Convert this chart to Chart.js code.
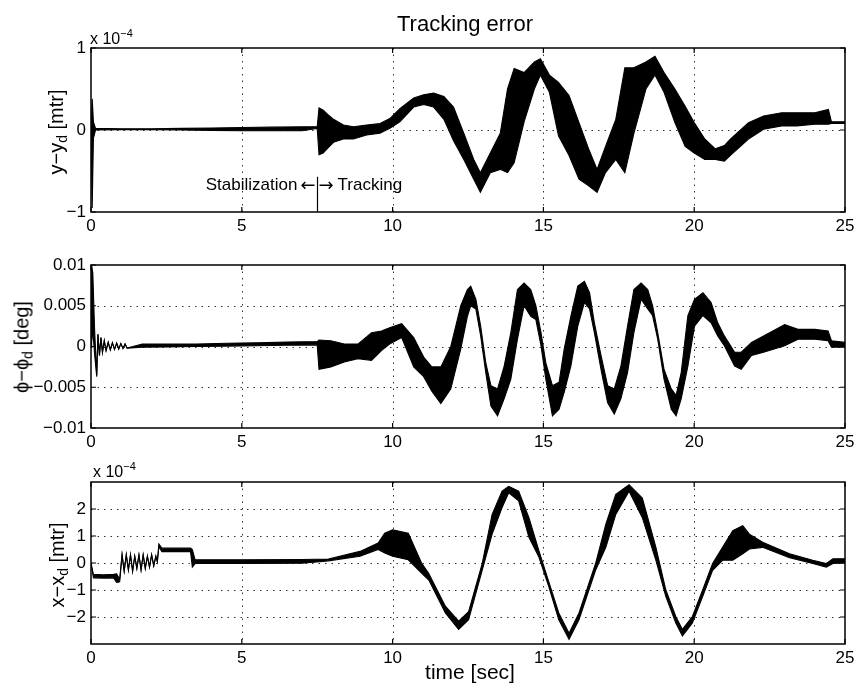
<!DOCTYPE html>
<html>
<head>
<meta charset="utf-8">
<script src="https://cdn.jsdelivr.net/npm/chart.js@4.4.1/dist/chart.umd.min.js"></script>
<style>
  body { margin: 0; background: #fff; }
  #page { position: relative; width: 859px; height: 692px; background: #fff; font-family: "Liberation Sans", Arial, sans-serif; color: #000; overflow: hidden; }
  #page canvas { position: absolute; left: 0; }
  .lbl { position: absolute; white-space: nowrap; line-height: 1; }
  .ylab { transform: translate(-50%, -50%) rotate(-90deg); font-size: 20px; }
  .ylab sub { font-size: 14px; vertical-align: -4px; }
  .expo { font-size: 16px; }
  .expo sup { font-size: 11px; vertical-align: 7px; }
</style>
</head>
<body>
<div id="page">
  <canvas id="c1" width="859" height="240" style="top:0"></canvas>
  <canvas id="c2" width="859" height="215" style="top:240px"></canvas>
  <canvas id="c3" width="859" height="215" style="top:455px"></canvas>
  <div class="lbl" style="left:465px; top:13px; transform:translateX(-50%); font-size:22px;">Tracking error</div>
  <div class="lbl expo" style="left:90px; top:28px;">x 10<sup>−4</sup></div>
  <div class="lbl expo" style="left:93px; top:461px;">x 10<sup>−4</sup></div>
  <div class="lbl ylab" style="left:57px; top:132px;">y−y<sub>d</sub> [mtr]</div>
  <div class="lbl ylab" style="left:23px; top:347px;">ϕ−ϕ<sub>d</sub> [deg]</div>
  <div class="lbl ylab" style="left:58px; top:565px;">x−x<sub>d</sub> [mtr]</div>
  <div class="lbl" style="left:470px; top:661px; transform:translateX(-50%); font-size:21px;">time [sec]</div>
</div>
<script>
// ---- values (upper / lower edge of each trace) ----
const xTicks = [0, 5, 10, 15, 20, 25];
const xTickLabels = ['0', '5', '10', '15', '20', '25'];

// y - y_d, units of 1e-4 mtr
const yTime  = [0, 0.04, 0.08, 0.15, 1, 2, 3, 4, 5, 6, 7, 7.5, 7.56, 7.7, 7.85, 8.04, 8.37, 8.7, 9.14, 9.58, 9.91,
                10.24, 10.7, 11.03, 11.36, 11.7, 12.02, 12.36, 12.69, 12.91, 13.24, 13.57, 13.81, 14.03, 14.36, 14.7, 14.9,
                15.2, 15.5, 15.85, 16.18, 16.5, 16.78, 17.06, 17.4, 17.7, 18.0, 18.4, 18.7, 19.0, 19.36, 19.7, 20.0,
                20.35, 20.7, 21.0, 21.2, 21.8, 22.3, 22.9, 23.4, 24.0, 24.45, 24.55, 25];
const yUpper = [0, 0.38, 0.1, 0.02, 0.015, 0.015, 0.02, 0.025, 0.03, 0.035, 0.04, 0.04, 0.27, 0.24, 0.19, 0.13, 0.06, 0.04, 0.06, 0.08, 0.14,
                0.26, 0.39, 0.43, 0.45, 0.41, 0.28, -0.04, -0.36, -0.52, -0.28, -0.04, 0.5, 0.75, 0.7, 0.83, 0.87,
                0.67, 0.58, 0.42, 0.09, -0.23, -0.48, -0.2, 0.13, 0.76, 0.76, 0.83, 0.9, 0.7, 0.5, 0.29, 0.09,
                -0.11, -0.23, -0.19, -0.11, 0.09, 0.17, 0.21, 0.21, 0.21, 0.25, 0.1, 0.1];
const yLower = [0, -0.95, -0.1, 0.0, 0.005, 0.005, 0.0, -0.005, -0.01, -0.01, -0.01, 0.02, -0.3, -0.28, -0.22, -0.15, -0.11, -0.11, -0.06, -0.04, 0.02,
                0.1, 0.28, 0.31, 0.28, 0.13, -0.13, -0.36, -0.6, -0.76, -0.52, -0.48, -0.52, -0.4, 0.1, 0.5, 0.67,
                0.46, -0.07, -0.31, -0.6, -0.68, -0.76, -0.52, -0.36, -0.52, -0.04, 0.5, 0.67, 0.46, 0.09, -0.2, -0.28,
                -0.36, -0.36, -0.38, -0.31, -0.11, 0.01, 0.05, 0.05, 0.07, 0.07, 0.08, 0.08];
const yErrTicks = [-1, 0, 1];
const yErrTickLabels = ['−1', '0', '1'];

// phi - phi_d, deg
const phiTime  = [0, 0.02, 0.06, 0.12, 0.19, 0.23, 0.28, 0.33, 0.38, 0.44, 0.5, 0.57, 0.64, 0.71, 0.78, 0.85, 0.92, 0.99, 1.06, 1.13, 1.2,
                  1.7, 2.5, 3.5, 4.5, 5.5, 6.5, 7.5, 7.56, 7.95, 8.4,
                  8.85, 9.3, 9.63, 9.9, 10.3, 10.7, 11.03, 11.3, 11.6, 11.93, 12.26, 12.48, 12.59, 12.76, 12.92, 13.09, 13.26, 13.48,
                  13.7, 13.92, 14.14, 14.36, 14.58, 14.75, 14.92, 15.08, 15.3, 15.52, 15.69, 15.91, 16.14, 16.36, 16.53, 16.69,
                  16.91, 17.13, 17.35, 17.57, 17.79, 18.0, 18.24, 18.46, 18.62, 18.79, 19.0, 19.24, 19.4, 19.57, 19.79, 20.01,
                  20.29, 20.56, 20.78, 21.0, 21.34, 21.56, 21.9, 22.3, 23.0, 23.44, 24.0, 24.44, 24.55, 25];
const phiUpper = [0, 0.01, 0.009, 0.002, -0.0035, 0.0015, -0.0011, 0.0011, -0.0007, 0.0007, -0.0005, 0.0005, -0.0004, 0.00045, -0.00035, 0.0004, -0.0003, 0.00035, -0.00025, 0.0003, -0.0002,
                  0.0003, 0.0003, 0.0003, 0.0004, 0.00045, 0.00055, 0.0006, 0.0008, 0.0007, 0.0003,
                  0.0003, 0.0017, 0.0019, 0.0023, 0.0028, 0.0011, -0.0013, -0.0025, -0.0025, 0, 0.005, 0.007, 0.0074, 0.0058, 0.0025, -0.002, -0.0048, -0.0052,
                  -0.0024, 0.0017, 0.007, 0.0078, 0.007, 0.005, 0.0017, -0.002, -0.0048, -0.0044, -0.0003, 0.0037, 0.0074, 0.008, 0.0066, 0.0029,
                  -0.0011, -0.0048, -0.0052, -0.0024, 0.0025, 0.007, 0.0078, 0.007, 0.005, 0.0017, -0.0028, -0.0052, -0.006, -0.0032, 0.0038, 0.0058,
                  0.0066, 0.0054, 0.0029, 0.0013, -0.0007, -0.0007, 0.0005, 0.0013, 0.0027, 0.0021, 0.0021, 0.0019, 0.0007, 0.0005];
const phiLower = [0, 0, 0.002, -0.001, -0.0037, 0.0015, -0.0011, 0.0011, -0.0007, 0.0007, -0.0005, 0.0005, -0.0004, 0.00045, -0.00035, 0.0004, -0.0003, 0.00035, -0.00025, 0.0003, -0.0002,
                  -0.0001, -0.00005, 0, 0.00005, 0.0001, 0.00015, 0.0002, -0.0028, -0.0025, -0.0019,
                  -0.0015, -0.0017, -0.0005, 0.0003, 0.0011, -0.0025, -0.0037, -0.0055, -0.007, -0.0052, -0.0003, 0.0037, 0.005, 0.0046, 0.0013, -0.0032, -0.0073, -0.0085,
                  -0.0064, -0.004, 0.0009, 0.005, 0.0037, 0.0033, 0.0001, -0.004, -0.0085, -0.0077, -0.0056, -0.0024, 0.0025, 0.0054, 0.0046, 0.0017,
                  -0.0028, -0.0069, -0.0083, -0.0064, -0.0032, 0.0017, 0.0058, 0.0046, 0.0038, 0.0009, -0.004, -0.0077, -0.0085, -0.0064, -0.0024, 0.0025,
                  0.0038, 0.0029, 0.0013, 0.0001, -0.0024, -0.0028, -0.0011, -0.0007, 0.0001, 0.0009, 0.0009, 0.0007, -0.0001, -0.0001];
const phiTicks = [-0.01, -0.005, 0, 0.005, 0.01];
const phiTickLabels = ['−0.01', '−0.005', '0', '0.005', '0.01'];

// x - x_d, units of 1e-4 mtr
const xTime  = [0, 0.08, 0.4, 0.75, 0.85, 0.95, 1.03, 1.1, 1.17, 1.24, 1.31, 1.38, 1.45, 1.52, 1.59, 1.66, 1.73, 1.8, 1.87, 1.94,
                2.01, 2.08, 2.15, 2.2, 2.25, 2.35, 2.8, 3.3, 3.36, 3.45, 5, 7, 7.87, 8.92, 9.52,
                9.74, 10.0, 10.52, 10.96, 11.2, 11.75, 12.19, 12.52, 12.97, 13.3, 13.63, 13.85, 14.18, 14.52, 14.85, 15.18, 15.51, 15.85,
                16.18, 16.73, 17.07, 17.4, 17.84, 18.28, 18.73, 19.06, 19.39, 19.61, 19.94, 20.28, 20.61, 20.94, 21.28, 21.61,
                21.83, 22.27, 23.16, 23.93, 24.38, 24.6, 25];
const xUpper = [0, -0.42, -0.44, -0.42, -0.4, -0.6, 0.3, -0.3, 0.3, -0.25, 0.3, -0.3, 0.25, -0.2, 0.3, -0.25, 0.3, -0.2, 0.25, -0.15,
                0.3, -0.1, 0.25, 0.05, 0.7, 0.55, 0.55, 0.55, 0.5, 0.12, 0.12, 0.13, 0.15, 0.43, 0.74,
                1.1, 1.23, 1.1, 0, -0.39, -1.6, -2.15, -1.8, -0.02, 1.8, 2.66, 2.84, 2.66, 1.68, 0.46, -0.7, -1.85, -2.6,
                -1.85, -0.02, 1.44, 2.54, 2.9, 2.41, 0.58, -1.0, -1.98, -2.46, -1.98, -1.0, -0.02, 0.58, 1.2, 1.38,
                1.07, 0.77, 0.34, 0.1, -0.02, 0.16, 0.16];
const xLower = [0, -0.55, -0.56, -0.55, -0.72, -0.7, 0.3, -0.3, 0.3, -0.25, 0.3, -0.3, 0.25, -0.2, 0.3, -0.25, 0.3, -0.2, 0.25, -0.15,
                0.3, -0.1, 0.25, 0.05, 0.6, 0.42, 0.42, 0.42, -0.15, -0.02, -0.02, -0.01, 0.08, 0.25, 0.5,
                0.37, 0.25, 0.12, -0.37, -0.63, -1.85, -2.46, -2.1, -0.27, 1.07, 2.05, 2.6, 2.3, 0.95, 0.22, -0.88, -2.1, -2.83,
                -2.1, -0.27, 0.58, 1.8, 2.66, 1.68, 0.1, -1.24, -2.22, -2.7, -2.22, -1.24, -0.27, 0.1, 0.1, 0.34,
                0.52, 0.58, 0.2, -0.02, -0.15, -0.02, 0.0];
const xErrTicks = [-2, -1, 0, 1, 2];
const xErrTickLabels = ['−2', '−1', '0', '1', '2'];

// "Stabilization <-|-> Tracking" marker in the first panel
const switchTime = 7.5;

const fontFamily = '"Liberation Sans", Arial, sans-serif';
const tickFont = { family: fontFamily, size: 17 };

// dotted grid, box and inward tick marks (MATLAB look)
function framePlugin(yTickVals, extra) {
  return {
    id: 'frame',
    beforeDatasetsDraw(chart) {
      const { ctx, chartArea: a, scales: { x, y } } = chart;
      ctx.save();
      ctx.strokeStyle = '#333';
      ctx.lineWidth = 1;
      ctx.setLineDash([1.5, 5]);
      xTicks.forEach(v => {
        if (v <= x.min || v >= x.max) return;
        const px = Math.round(x.getPixelForValue(v)) + 0.5;
        ctx.beginPath(); ctx.moveTo(px, a.top); ctx.lineTo(px, a.bottom); ctx.stroke();
      });
      yTickVals.forEach(v => {
        if (v <= y.min || v >= y.max) return;
        const py = Math.round(y.getPixelForValue(v)) + 0.5;
        ctx.beginPath(); ctx.moveTo(a.left, py); ctx.lineTo(a.right, py); ctx.stroke();
      });
      ctx.restore();
    },
    afterDatasetsDraw(chart) {
      const { ctx, chartArea: a, scales: { x, y } } = chart;
      ctx.save();
      ctx.strokeStyle = '#000';
      ctx.lineWidth = 1.5;
      ctx.strokeRect(a.left, a.top, a.right - a.left, a.bottom - a.top);
      ctx.lineWidth = 1.2;
      const tl = 5;
      xTicks.forEach(v => {
        const px = x.getPixelForValue(v);
        ctx.beginPath();
        ctx.moveTo(px, a.bottom); ctx.lineTo(px, a.bottom - tl);
        ctx.moveTo(px, a.top); ctx.lineTo(px, a.top + tl);
        ctx.stroke();
      });
      yTickVals.forEach(v => {
        const py = y.getPixelForValue(v);
        ctx.beginPath();
        ctx.moveTo(a.left, py); ctx.lineTo(a.left + tl, py);
        ctx.moveTo(a.right, py); ctx.lineTo(a.right - tl, py);
        ctx.stroke();
      });
      if (extra) extra(chart);
      ctx.restore();
    }
  };
}

function makeChart(id, time, upper, lower, yMin, yMax, yTickVals, yTickText, topPad, axisH, extra) {
  const pts = arr => time.map((t, i) => ({ x: t, y: arr[i] }));
  return new Chart(document.getElementById(id), {
    type: 'line',
    data: {
      datasets: [
        { data: pts(lower), borderColor: '#000', borderWidth: 1.1, pointRadius: 0, tension: 0, fill: false },
        { data: pts(upper), borderColor: '#000', borderWidth: 1.1, pointRadius: 0, tension: 0, fill: '-1', backgroundColor: '#000' }
      ]
    },
    options: {
      responsive: false,
      animation: false,
      events: [],
      layout: { padding: { top: topPad, right: 14, left: 0, bottom: 0 } },
      plugins: { legend: { display: false }, tooltip: { enabled: false } },
      scales: {
        x: {
          type: 'linear', min: 0, max: 25,
          grid: { display: false, drawTicks: false },
          border: { display: false },
          afterBuildTicks: s => { s.ticks = xTicks.map(v => ({ value: v })); },
          afterFit: s => { s.height = axisH; },
          ticks: {
            padding: 4, color: '#000', font: tickFont, maxRotation: 0, autoSkip: false,
            callback: v => xTickLabels[xTicks.indexOf(v)]
          }
        },
        y: {
          type: 'linear', min: yMin, max: yMax,
          grid: { display: false, drawTicks: false },
          border: { display: false },
          afterBuildTicks: s => { s.ticks = yTickVals.map(v => ({ value: v })); },
          afterFit: s => { s.width = 91; },
          ticks: {
            padding: 5, color: '#000', font: tickFont, autoSkip: false,
            callback: v => yTickText[yTickVals.indexOf(v)]
          }
        }
      }
    },
    plugins: [framePlugin(yTickVals, extra)]
  });
}

// marker line and caption in the first panel
function switchMarker(chart) {
  const { ctx, scales: { x, y } } = chart;
  const px = Math.round(x.getPixelForValue(switchTime)) + 0.5;
  ctx.strokeStyle = '#000';
  ctx.lineWidth = 1.2;
  ctx.beginPath();
  ctx.moveTo(px, y.getPixelForValue(-0.57));
  ctx.lineTo(px, y.getPixelForValue(-1));
  ctx.stroke();
  ctx.fillStyle = '#000';
  ctx.textBaseline = 'middle';
  const ty = y.getPixelForValue(-0.68);
  const arrowFont = '18px "DejaVu Sans", sans-serif';
  ctx.font = arrowFont;
  const aw = ctx.measureText('←').width;
  ctx.textAlign = 'right';
  ctx.fillText('←', px - 2, ty + 1);
  ctx.textAlign = 'left';
  ctx.fillText('→', px + 1, ty + 1);
  ctx.font = '17px ' + fontFamily;
  ctx.textAlign = 'right';
  ctx.fillText('Stabilization', px - 2 - aw - 3, ty);
  ctx.textAlign = 'left';
  ctx.fillText('Tracking', px + 1 + aw + 4, ty);
}

makeChart('c1', yTime, yUpper, yLower, -1, 1, yErrTicks, yErrTickLabels, 48, 28, switchMarker);
makeChart('c2', phiTime, phiUpper, phiLower, -0.01, 0.01, phiTicks, phiTickLabels, 25, 27, null);
makeChart('c3', xTime, xUpper, xLower, -3, 3, xErrTicks, xErrTickLabels, 27, 26, null);
</script>
</body>
</html>
